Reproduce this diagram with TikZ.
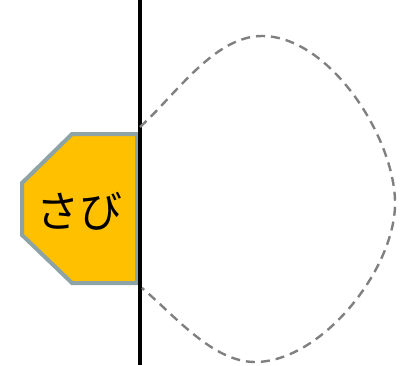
\documentclass[tikz,border=0pt]{standalone}
\usepackage{fontspec}
\newfontfamily\cjk{Noto Sans CJK JP}
\usetikzlibrary{positioning}
\definecolor{cgold}{HTML}{FFC000}
\definecolor{cslate}{HTML}{8EA3A6}
\definecolor{cgrey}{HTML}{808080}
\tikzset{
  every picture/.style={x=1pt, y=1pt},
  wall/.style={draw=black, line width=4.5pt},
  plate/.style={draw=cslate, fill=cgold, line width=4pt, line join=miter},
  reach/.style={draw=cgrey, line width=2.4pt, dash pattern=on 9pt off 6pt},
  tag/.style={font=\cjk\fontsize{43}{43}\selectfont, inner sep=0pt},
}

\begin{document}
\begin{tikzpicture}
  \useasboundingbox (0,0) rectangle (403,365);
  % wall
  \coordinate (wtop) at (140,365);
  \coordinate (wbot) at (140,0);
  % plate outline
  \draw[plate] (72,231) -- (137,231) -- (137,82) -- (72,82) -- (22,130) -- (22,182) -- cycle;
  \node[tag] (sabi) at (79,154) {さび};
  \draw[wall] (wtop) -- (wbot);
  % dashed lobe
  \coordinate (l0) at (140,238);
  \coordinate (l1) at (262,329);
  \coordinate (l2) at (395,165);
  \coordinate (l3) at (255,3);
  \coordinate (l4) at (142,77);
  \draw[reach] (l0) to[out=42, in=180, looseness=0.8] (l1)
    to[out=0, in=92, looseness=0.8] (l2)
    to[out=-88, in=0, looseness=0.8] (l3)
    to[out=180, in=-40, looseness=0.8] (l4);
\end{tikzpicture}
\end{document}
